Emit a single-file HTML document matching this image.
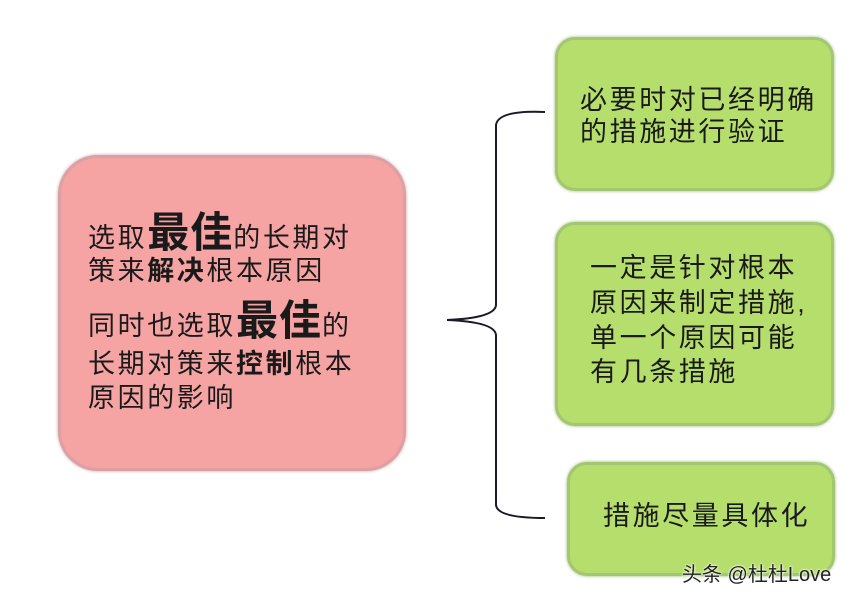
<!DOCTYPE html>
<html><head><meta charset="utf-8"><style>
html,body{margin:0;padding:0;background:#fff;}
body{width:868px;height:604px;position:relative;overflow:hidden;font-family:"Liberation Sans","Noto Sans CJK SC",sans-serif;color:#1a1a1a;}
.box{position:absolute;box-sizing:border-box;}
.pink{left:58px;top:155px;width:348px;height:316px;background:#f5a3a3;border:3px solid #dca0a4;border-radius:40px;box-shadow:0 0 3px #c99;}
.green{background:#b6de6c;border:3px solid #a3c673;border-radius:20px;box-shadow:0 0 3px #9b6;}
.t{position:absolute;white-space:nowrap;font-size:27px;line-height:1;letter-spacing:2.6px;}
.b{font-weight:bold;}
.big{font-size:42px;font-weight:bold;letter-spacing:1px;}
</style></head><body>
<div class="box pink"></div>
<div class="t" style="left:88px;top:212px;">选取<span class="big">最佳</span>的长期对</div>
<div class="t" style="left:88px;top:258px;">策来<span class="b">解决</span>根本原因</div>
<div class="t" style="left:88px;top:300px;">同时也选取<span class="big">最佳</span>的</div>
<div class="t" style="left:88px;top:351px;">长期对策来<span class="b">控制</span>根本</div>
<div class="t" style="left:88px;top:385px;">原因的影响</div>

<div class="box green" style="left:555px;top:37px;width:279px;height:154px;"></div>
<div class="t" style="left:580px;top:87px;">必要时对已经明确</div>
<div class="t" style="left:580px;top:119px;">的措施进行验证</div>

<div class="box green" style="left:555px;top:222px;width:279px;height:204px;"></div>
<div class="t" style="left:590px;top:255px;">一定是针对根本</div>
<div class="t" style="left:590px;top:290px;">原因来制定措施,</div>
<div class="t" style="left:590px;top:325px;">单一个原因可能</div>
<div class="t" style="left:590px;top:359px;">有几条措施</div>

<div class="box green" style="left:567px;top:462px;width:268px;height:114px;"></div>
<div class="t" style="left:603px;top:503px;">措施尽量具体化</div>

<svg width="868" height="604" style="position:absolute;left:0;top:0">
<path d="M545 112 Q498 110 496 125 L496 305 Q495 318 447 320 Q495 322 496 335 L496 505 Q497 518 545 518" fill="none" stroke="#1a1a2a" stroke-width="2"/>
</svg>
<div class="t" style="left:682px;top:565px;font-size:20px;letter-spacing:0;color:#222;text-shadow:0 0 2px #fff,0 0 2px #fff;">头条 @杜杜Love</div>
</body></html>
